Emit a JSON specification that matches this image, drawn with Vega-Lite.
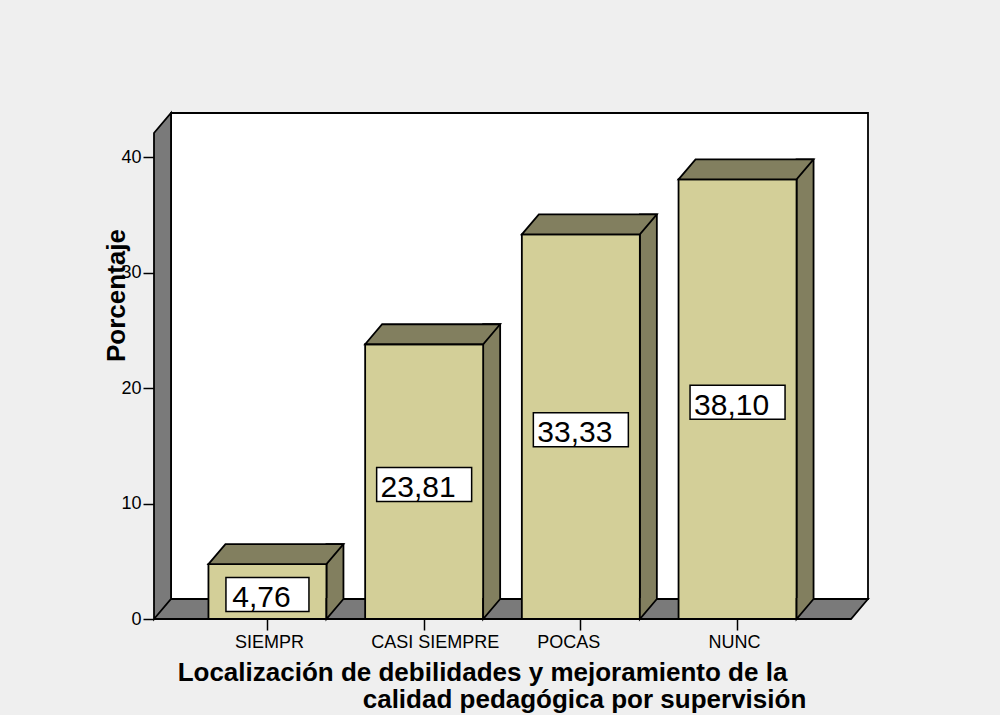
{
  "$schema": "https://vega.github.io/schema/vega-lite/v6.json",
  "width": 697,
  "height": 506,
  "autosize": {"type": "none"},
  "padding": {"left": 154, "top": 113, "right": 149, "bottom": 96},
  "background": "#efefef",
  "title": {
    "text": "calidad  pedagógica por supervisión",
    "orient": "bottom",
    "anchor": "middle",
    "frame": "group",
    "dx": 82,
    "offset": 2,
    "font": "Liberation Sans",
    "fontSize": 26,
    "fontWeight": "bold",
    "color": "black"
  },
  "layer": [
    {
      "data": {"values": [{}]},
      "mark": {"type": "point", "shape": "M -331.5,-20 L 365.5,-20 L 365.5,-506 L -331.5,-506 Z", "size": 4, "filled": true, "fill": "white", "stroke": "black", "strokeWidth": 1.8, "opacity": 1},
      "encoding": {"y": {"datum": 0, "type": "quantitative", "title": "Porcentaje", "scale": {"domain": [0, 43.85], "nice": false, "zero": true}}}
    },
    {
      "data": {"values": [{}]},
      "mark": {"type": "point", "shape": "M -348.5,0 L -331.5,-20 L -331.5,-506 L -348.5,-486 Z M -348.5,0 L -331.5,-20 L 365.5,-20 L 348.5,0 Z", "size": 4, "filled": true, "fill": "#7a7a7a", "stroke": "black", "strokeWidth": 1.8, "opacity": 1},
      "encoding": {"y": {"datum": 0, "type": "quantitative", "title": "Porcentaje"}}
    },
    {
      "data": {"name": "bars"},
      "mark": {"type": "bar", "width": 17, "xOffset": 67.5, "yOffset": -20, "y2Offset": -20, "fill": "#827f5f", "stroke": "black", "strokeWidth": 1.8, "opacity": 1},
      "encoding": {
        "x": {"field": "cat", "type": "nominal", "sort": null, "title": "Localización de debilidades y mejoramiento de la"},
        "y": {"field": "pct", "type": "quantitative", "title": "Porcentaje"}
      }
    },
    {
      "data": {"name": "bars"},
      "mark": {"type": "bar", "width": 118, "fill": "#d3cf98", "stroke": "black", "strokeWidth": 1.8, "opacity": 1},
      "encoding": {
        "x": {
          "field": "cat", "type": "nominal", "sort": null,
          "title": "Localización de debilidades y mejoramiento de la",
          "scale": {"domain": ["SIEMPR", "CASI SIEMPRE", "POCAS", "NUNC"], "paddingInner": 0.247, "paddingOuter": 0.3475},
          "axis": {
            "labelOffset": {"condition": [{"test": "datum.value === 'CASI SIEMPRE'", "value": 11}, {"test": "datum.value === 'POCAS'", "value": -12}, {"test": "datum.value === 'NUNC'", "value": -3}], "value": 2}
          }
        },
        "y": {"field": "pct", "type": "quantitative", "title": "Porcentaje", "axis": {"values": [0, 10, 20, 30, 40]}}
      }
    },
    {
      "data": {"name": "bars"},
      "mark": {"type": "point", "shape": "M -59,0 L -42,-20 L 76,-20 L 59,0 Z", "size": 4, "filled": true, "fill": "#827f5f", "stroke": "black", "strokeWidth": 1.8, "opacity": 1},
      "encoding": {
        "x": {"field": "cat", "type": "nominal", "sort": null, "title": "Localización de debilidades y mejoramiento de la"},
        "y": {"field": "pct", "type": "quantitative", "title": "Porcentaje"}
      }
    },
    {
      "data": {"name": "bars"},
      "mark": {"type": "point", "shape": "M 59,-21 L 59,0 L 76,-20 L 76,-21", "size": 4, "filled": true, "fill": "#827f5f", "stroke": "black", "strokeWidth": 1.8, "opacity": 1},
      "encoding": {
        "x": {"field": "cat", "type": "nominal", "sort": null, "title": "Localización de debilidades y mejoramiento de la"},
        "y": {"datum": 0, "type": "quantitative", "title": "Porcentaje"}
      }
    },
    {
      "data": {"name": "bars"},
      "transform": [{"calculate": "datum.pct / 2", "as": "mid"}],
      "mark": {"type": "point", "size": 4, "filled": true, "fill": "white", "stroke": "black", "strokeWidth": 1.5, "opacity": 1, "yOffset": 3},
      "encoding": {
        "x": {"field": "cat", "type": "nominal", "sort": null, "title": "Localización de debilidades y mejoramiento de la"},
        "y": {"field": "mid", "type": "quantitative", "title": "Porcentaje"},
        "shape": {
          "field": "cat", "type": "nominal", "legend": null,
          "scale": {
            "domain": ["SIEMPR", "CASI SIEMPRE", "POCAS", "NUNC"],
            "range": ["M -41.5,-17 L 41.5,-17 L 41.5,17 L -41.5,17 Z", "M -47.5,-17 L 47.5,-17 L 47.5,17 L -47.5,17 Z", "M -47.5,-17 L 47.5,-17 L 47.5,17 L -47.5,17 Z", "M -47.5,-17 L 47.5,-17 L 47.5,17 L -47.5,17 Z"]
          }
        }
      }
    },
    {
      "data": {"name": "bars"},
      "transform": [{"calculate": "datum.pct / 2", "as": "mid"}],
      "mark": {"type": "text", "font": "Liberation Sans", "fontSize": 30, "fill": "black", "baseline": "alphabetic", "align": "center", "dx": -6, "dy": 15.5},
      "encoding": {
        "x": {"field": "cat", "type": "nominal", "sort": null, "title": "Localización de debilidades y mejoramiento de la"},
        "y": {"field": "mid", "type": "quantitative", "title": "Porcentaje"},
        "text": {"field": "pct", "type": "quantitative", "format": ".2f"}
      }
    }
  ],
  "datasets": {
    "bars": [
      {"cat": "SIEMPR", "pct": 4.76},
      {"cat": "CASI SIEMPRE", "pct": 23.81},
      {"cat": "POCAS", "pct": 33.33},
      {"cat": "NUNC", "pct": 38.10}
    ]
  },
  "config": {
    "view": {"stroke": null},
    "locale": {"number": {"decimal": ",", "thousands": ".", "grouping": [3], "currency": ["", " €"]}},
    "axisX": {
      "labelAngle": 0,
      "domain": false,
      "grid": false,
      "tickSize": 11,
      "tickWidth": 1.5,
      "tickColor": "black",
      "labelFont": "Liberation Sans",
      "labelFontSize": 18,
      "labelColor": "black",
      "labelPadding": 3,
      "titleFont": "Liberation Sans",
      "titleFontSize": 26,
      "titleFontWeight": "bold",
      "titleColor": "black",
      "titleX": 328,
      "titleY": 61,
      "titleAlign": "center",
      "titleBaseline": "alphabetic"
    },
    "axisY": {
      "domain": false,
      "grid": false,
      "tickSize": 11,
      "tickWidth": 1.5,
      "tickColor": "black",
      "labelFont": "Liberation Sans",
      "labelFontSize": 18,
      "labelColor": "black",
      "labelPadding": 2,
      "titleFont": "Liberation Sans",
      "titleFontSize": 26,
      "titleFontWeight": "bold",
      "titleColor": "black",
      "titleAngle": -90,
      "titleX": -30,
      "titleY": 182,
      "titleAlign": "center",
      "titleBaseline": "alphabetic"
    }
  }
}
